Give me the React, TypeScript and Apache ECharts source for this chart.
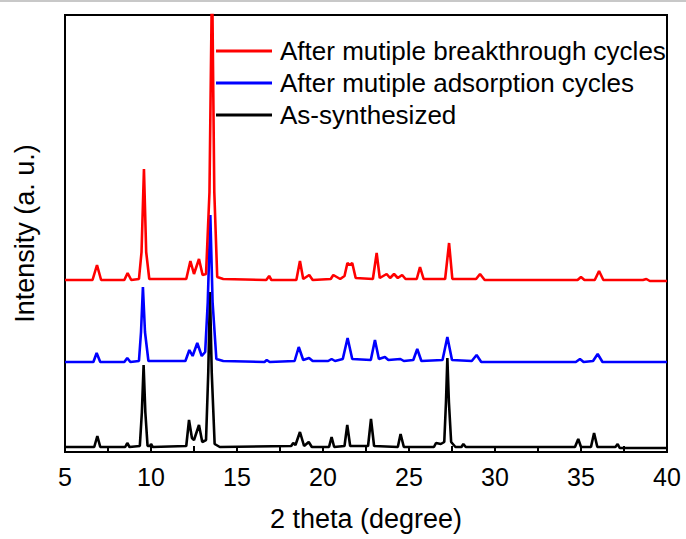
import React, { useEffect, useRef } from "react";
import * as echarts from "echarts";

const seriesNames = [
  "After mutiple breakthrough cycles",
  "After mutiple adsorption cycles",
  "As-synthesized",
];

const xTicks = [5, 10, 15, 20, 25, 30, 35, 40];

const redData: number[][] = [
  [5.0, 172], [6.6, 172], [6.86, 187], [7.1, 172], [8.45, 172], [8.64, 179], [8.85, 172],
  [9.3, 173], [9.45, 200], [9.59, 283], [9.72, 200], [9.9, 173], [12.05, 173], [12.29, 191],
  [12.5, 178], [12.79, 193], [13.0, 177], [13.2, 178], [13.4, 260], [13.55, 480], [13.68, 260],
  [13.85, 175], [14.2, 173], [16.7, 172], [16.87, 176], [17.0, 172], [18.45, 172], [18.66, 191],
  [18.85, 173], [19.2, 177], [19.4, 172], [20.45, 173], [20.6, 177], [20.8, 175], [21.0, 173],
  [21.25, 176], [21.42, 189], [21.55, 187], [21.7, 189], [21.9, 174], [22.9, 173], [23.12, 199],
  [23.3, 174], [23.7, 178], [23.9, 174], [24.13, 178], [24.35, 174], [24.6, 177], [24.8, 173],
  [25.45, 173], [25.64, 185], [25.85, 173], [27.1, 173], [27.33, 209], [27.52, 173], [28.9, 173],
  [29.13, 178], [29.4, 172], [34.8, 172], [35.0, 175], [35.2, 172], [35.8, 172], [36.05, 181],
  [36.3, 172], [38.6, 172], [38.8, 173], [39.0, 171], [40, 171],
];

const blueData: number[][] = [
  [5, 90], [6.65, 90], [6.84, 99], [7.05, 90], [8.45, 90], [8.62, 94], [8.8, 90], [9.3, 91],
  [9.42, 120], [9.53, 165], [9.65, 120], [9.85, 91], [12.0, 91], [12.23, 102], [12.42, 96],
  [12.69, 109], [12.95, 96], [13.15, 100], [13.3, 150], [13.45, 237], [13.58, 150], [13.8, 93],
  [14.2, 91], [16.6, 90], [16.73, 92], [16.9, 90], [18.35, 91], [18.59, 105], [18.85, 92],
  [19.19, 94], [19.4, 91], [20.3, 91], [20.5, 93], [20.7, 91], [21.15, 93], [21.43, 114],
  [21.7, 93], [22.78, 92], [23.02, 112], [23.25, 93], [23.6, 95], [23.8, 92], [24.5, 93],
  [24.7, 91], [25.25, 92], [25.48, 103], [25.72, 91], [26.95, 92], [27.23, 115], [27.5, 92],
  [28.65, 91], [28.93, 97], [29.2, 90], [34.7, 90], [34.94, 93], [35.15, 90], [35.7, 91],
  [35.97, 98], [36.25, 90], [40, 90],
];

const blackData: number[][] = [
  [5, 5], [6.7, 5], [6.88, 16], [7.05, 5], [8.5, 5], [8.62, 9], [8.75, 5], [9.35, 6], [9.47, 40],
  [9.57, 87], [9.67, 40], [9.8, 6], [9.95, 6], [10.0, 8], [10.1, 5], [12.05, 6], [12.21, 32],
  [12.38, 14], [12.5, 12], [12.79, 27], [12.98, 10], [13.2, 12], [13.33, 80], [13.43, 160],
  [13.53, 80], [13.7, 8], [14.0, 5], [18.15, 6], [18.27, 9], [18.4, 7], [18.66, 20], [18.9, 6],
  [19.17, 10], [19.35, 5], [20.35, 5], [20.5, 15], [20.65, 5], [21.25, 6], [21.41, 27],
  [21.58, 6], [22.62, 6], [22.79, 33], [22.97, 6], [24.35, 5], [24.51, 18], [24.7, 5],
  [26.45, 5], [26.57, 9], [26.85, 8], [27.05, 10], [27.15, 50], [27.23, 94], [27.32, 50],
  [27.45, 10], [27.7, 5], [28.05, 5], [28.16, 8], [28.3, 5], [34.65, 5], [34.84, 13], [35.0, 5],
  [35.58, 5], [35.76, 19], [35.95, 5], [37.0, 5], [37.13, 8], [37.25, 4], [40, 4],
];

const colors = ["#ff0000", "#0000ff", "#000000"];
const FONT = "Liberation Sans, Arial, sans-serif";

export default function App() {
  const ref = useRef<HTMLDivElement>(null);
  useEffect(() => {
    document.body.style.margin = "0";
    if (!ref.current) return;
    const chart = echarts.init(ref.current, null, { renderer: "svg" });
    const datasets = [redData, blueData, blackData];
    chart.setOption({
      animation: false,
      backgroundColor: "#ffffff",
      graphic: [
        {
          type: "rect",
          left: 0,
          top: 0,
          shape: { width: 686, height: 2 },
          style: { fill: "#c8c8c8" },
        },
      ],
      grid: {
        left: 65,
        right: 19,
        top: 15,
        bottom: 87,
        show: true,
        borderColor: "#000",
        borderWidth: 2,
        backgroundColor: "transparent",
      },
      legend: {
        orient: "vertical",
        left: 216,
        top: 38,
        padding: 0,
        itemWidth: 56,
        itemHeight: 3,
        itemGap: 6,
        icon: "rect",
        data: seriesNames,
        textStyle: {
          fontSize: 26,
          fontFamily: FONT,
          color: "#000",
          padding: [0, 0, 0, 3],
        },
      },
      xAxis: {
        type: "value",
        min: xTicks[0],
        max: xTicks[xTicks.length - 1],
        interval: 5,
        name: "2 theta (degree)",
        nameLocation: "middle",
        nameGap: 53,
        nameTextStyle: { fontSize: 27, fontFamily: FONT, color: "#000" },
        axisLine: { show: true, lineStyle: { color: "#000", width: 2 } },
        axisTick: { show: true, inside: true, length: 6, lineStyle: { color: "#000", width: 2 } },
        minorTick: { show: true, splitNumber: 2, length: 6, lineStyle: { color: "#000", width: 2 } },
        axisLabel: { fontSize: 25, fontFamily: FONT, color: "#000", margin: 12 },
        splitLine: { show: false },
        minorSplitLine: { show: false },
      },
      yAxis: {
        type: "value",
        min: 0,
        max: 437,
        name: "Intensity (a. u.)",
        nameLocation: "middle",
        nameGap: 27,
        nameTextStyle: { fontSize: 27, fontFamily: FONT, color: "#000" },
        axisLine: { show: true, lineStyle: { color: "#000", width: 2 } },
        axisTick: { show: false },
        axisLabel: { show: false },
        splitLine: { show: false },
      },
      series: [2, 1, 0].map((i) => ({
        name: seriesNames[i],
        type: "line",
        data: datasets[i],
        showSymbol: false,
        symbol: "none",
        clip: true,
        z: 3 - i,
        color: colors[i],
        lineStyle: { color: colors[i], width: 2.6 },
      })),
    });
    return () => chart.dispose();
  }, []);
  return (
    <div
      ref={ref}
      style={{ width: 686, height: 539, position: "absolute", left: 0, top: 0 }}
    />
  );
}
